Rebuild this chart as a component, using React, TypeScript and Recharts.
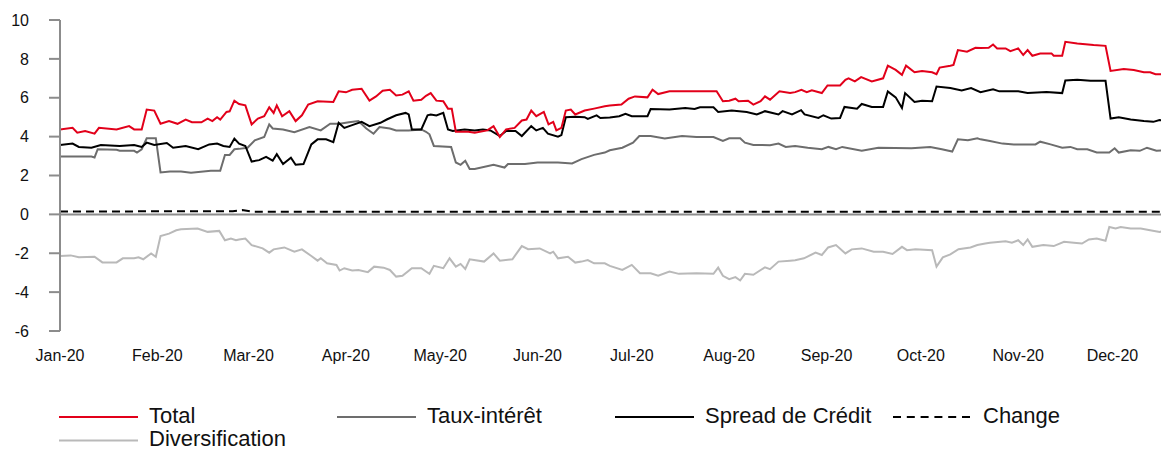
import { Line, LineChart, ReferenceLine, XAxis, YAxis } from "recharts"

type Pt = [number, number]

// day of year 2020 (0 = 1 Jan) -> value
const monthDays = [0, 31, 60, 91, 121, 152, 182, 213, 244, 274, 305, 335]
const monthLabels = [
  "Jan-20", "Feb-20", "Mar-20", "Apr-20", "May-20", "Jun-20",
  "Jul-20", "Aug-20", "Sep-20", "Oct-20", "Nov-20", "Dec-20",
]
const yTicks = [-6, -4, -2, 0, 2, 4, 6, 8, 10]

const totalPts: Pt[] = [
  [0, 4.37], [4, 4.45], [5.5, 4.2], [8, 4.29], [11, 4.15], [12.4, 4.45], [18, 4.37], [22, 4.54],
  [23.6, 4.37], [26, 4.37], [27.6, 5.39], [30, 5.34], [32, 4.66], [34.7, 4.8], [37.4, 4.66], [40, 4.88],
  [42, 4.74], [45, 4.74], [47, 4.93], [48.5, 4.8], [50, 5.0], [51, 4.88], [53, 5.27], [54, 5.3],
  [55.5, 5.85], [57, 5.68], [59, 5.61], [61, 4.63], [63, 4.93], [65, 5.05], [66.6, 5.51], [68, 5.22],
  [69, 5.61], [70.7, 5.05], [73, 5.31], [75, 4.8], [77, 5.1], [79, 5.65], [82, 5.82], [87, 5.78],
  [88.7, 6.33], [91, 6.28], [93, 6.41], [96, 6.46], [98.5, 5.85], [100.6, 6.07], [102.7, 6.36], [105, 6.41],
  [107, 6.12], [109, 6.16], [111, 6.33], [112.5, 5.85], [115, 5.9], [116.5, 6.1], [118, 6.24], [119.8, 5.85],
  [122, 5.82], [123.5, 5.44], [124.7, 5.44], [126, 4.25], [130, 4.25], [132, 4.2], [136, 4.32], [138, 4.54],
  [140, 3.98], [142, 4.37], [144.7, 4.45], [147, 4.83], [148.5, 4.88], [150, 5.34], [151.6, 5.05], [154, 5.27],
  [155.5, 4.63], [157, 4.76], [158, 4.32], [159.6, 4.45], [161, 5.34], [162.6, 5.39], [164, 5.14], [167, 5.34],
  [170, 5.44], [173.4, 5.56], [175, 5.6], [178.7, 5.65], [181, 5.95], [183, 6.07], [187, 6.02], [188.6, 6.41],
  [190.4, 6.19], [194, 6.33], [200.5, 6.33], [209, 6.33], [211, 5.82], [213, 5.85], [215, 5.95], [216, 5.82],
  [219, 5.85], [220.7, 5.65], [223, 5.82], [224.4, 6.07], [226, 5.9], [229, 6.33], [232.4, 6.24], [234, 6.29],
  [236, 6.41], [237.7, 6.29], [239.3, 6.38], [242.5, 6.24], [244.3, 6.63], [248.3, 6.63], [250, 6.92], [251, 7.0],
  [253, 6.84], [255, 7.06], [258.4, 6.84], [262, 7.0], [263.5, 7.65], [266, 7.43], [268, 7.18], [269.3, 7.65],
  [272, 7.31], [274.4, 7.38], [277.6, 7.31], [279, 7.21], [280, 7.55], [283.4, 7.65], [284.4, 7.69], [285.8, 8.45],
  [288.7, 8.37], [291.4, 8.57], [293, 8.56], [295.6, 8.57], [297, 8.74], [298.3, 8.54], [301, 8.54], [302.5, 8.4],
  [305, 8.54], [306.6, 8.2], [308, 8.45], [309.5, 8.16], [312, 8.28], [315.6, 8.28], [316.3, 8.16], [319, 8.16],
  [320, 8.88], [323.8, 8.79], [329, 8.71], [332.8, 8.67], [334.4, 7.38], [338.6, 7.48], [341.8, 7.43], [345, 7.31],
  [347, 7.31], [348.7, 7.21], [353, 7.21],
]

const tauxPts: Pt[] = [
  [0, 2.98], [10, 2.98], [11, 2.93], [12, 3.35], [18, 3.32], [19, 3.27], [23.6, 3.27], [24.5, 3.18],
  [26, 3.35], [27.6, 3.91], [30.5, 3.91], [32, 2.16], [35, 2.21], [38.5, 2.21], [41.7, 2.14], [48, 2.24],
  [51, 2.24], [52.5, 3.06], [54, 3.06], [55.5, 3.35], [57, 3.37], [59.7, 3.43], [62, 3.81], [65, 3.98],
  [66.6, 4.63], [67.7, 4.42], [71, 4.37], [74.6, 4.23], [79.4, 4.49], [83, 4.32], [86, 4.66], [89, 4.66],
  [92, 4.74], [95, 4.8], [97.5, 4.42], [99.8, 4.15], [101.7, 4.49], [105, 4.42], [107, 4.32], [111, 4.32],
  [115, 4.37], [116.5, 4.25], [117.6, 4.12], [119, 3.52], [124.5, 3.47], [126, 2.67], [127.5, 2.55], [129, 2.76],
  [130.4, 2.33], [132, 2.33], [138, 2.55], [141.5, 2.41], [142.6, 2.59], [148, 2.59], [152, 2.67], [158.5, 2.67],
  [163, 2.62], [166, 2.84], [170, 3.06], [173.4, 3.18], [175, 3.3], [179, 3.43], [182.4, 3.69], [184.4, 4.03],
  [188, 4.03], [192.5, 3.91], [198, 4.03], [202.6, 3.98], [208, 3.98], [211, 3.78], [213, 3.91], [216.5, 3.91],
  [218, 3.69], [220.7, 3.57], [226, 3.56], [228.7, 3.64], [231, 3.47], [234, 3.52], [238, 3.43], [242.5, 3.35],
  [244.6, 3.47], [247, 3.35], [249, 3.47], [255.2, 3.27], [260.5, 3.43], [271, 3.4], [277, 3.47], [280.7, 3.35],
  [284, 3.23], [285.8, 3.86], [289, 3.81], [292, 3.91], [293, 3.86], [296, 3.78], [300, 3.64], [303.6, 3.6],
  [310.5, 3.6], [312, 3.74], [315.3, 3.6], [319, 3.43], [321.6, 3.47], [323.8, 3.35], [327, 3.35], [330, 3.18],
  [334, 3.18], [335.7, 3.4], [337, 3.18], [340.8, 3.3], [343.7, 3.27], [346, 3.43], [349, 3.27], [353, 3.3],
]

const spreadPts: Pt[] = [
  [0, 3.57], [4, 3.64], [6, 3.47], [10, 3.43], [13, 3.57], [19, 3.52], [23.6, 3.57], [26, 3.47],
  [27.6, 3.69], [30, 3.57], [34, 3.67], [36, 3.43], [40, 3.52], [44, 3.35], [47.5, 3.6], [50, 3.64],
  [52, 3.52], [54, 3.47], [55.5, 3.9], [57, 3.64], [59, 3.52], [61, 2.72], [63.4, 2.79], [65.6, 2.96],
  [67.7, 2.76], [69, 3.1], [71, 2.59], [73.5, 2.92], [75, 2.55], [77.5, 2.59], [80, 3.6], [82, 3.86],
  [84.7, 3.86], [87, 3.72], [88.7, 4.71], [90.5, 4.45], [93, 4.59], [96, 4.76], [98.5, 4.54], [102, 4.71],
  [104, 4.88], [107, 5.1], [110, 5.22], [111, 5.14], [112, 4.37], [115, 4.37], [117, 5.1], [118, 5.14],
  [119.8, 5.09], [122, 5.22], [123.5, 4.37], [125, 4.29], [128.8, 4.37], [132, 4.32], [134.6, 4.37], [137, 4.32],
  [140, 4.03], [142, 4.29], [145, 4.29], [147, 4.03], [150, 4.54], [151.6, 4.32], [153.7, 4.45], [155.3, 4.15],
  [158.5, 4.0], [159.6, 4.08], [161, 5.0], [164, 5.02], [167, 5.0], [168, 4.91], [170.8, 5.09], [172, 4.96],
  [175, 4.98], [178, 5.05], [180, 5.17], [182, 5.05], [187, 5.05], [188, 5.42], [194, 5.39], [199, 5.47],
  [202, 5.42], [203.7, 5.51], [208, 5.51], [209.5, 5.27], [213.8, 5.34], [218.6, 5.27], [221.8, 5.14], [224.4, 5.31],
  [228.7, 5.14], [230, 5.31], [233, 5.14], [235.9, 5.36], [237, 5.14], [241.4, 4.96], [243, 5.1], [245.5, 4.93],
  [248.3, 4.96], [249.7, 5.53], [253.7, 5.44], [255.2, 5.68], [258.4, 5.53], [262, 5.53], [263.5, 6.33], [266, 6.02],
  [268, 5.47], [269, 6.24], [272, 5.78], [274.4, 5.85], [277.6, 5.82], [279, 6.58], [283.4, 6.5], [287, 6.38],
  [290, 6.5], [293, 6.29], [297, 6.44], [299, 6.33], [305, 6.33], [308, 6.24], [314, 6.29], [319, 6.24],
  [320, 6.89], [323.8, 6.92], [328, 6.87], [332.8, 6.87], [334.4, 4.93], [337, 5.0], [340.8, 4.88], [345, 4.8],
  [348, 4.76], [350, 4.85], [353, 4.83],
]

const changePts: Pt[] = [
  [0, 0.15], [55, 0.16], [58, 0.22], [61, 0.14], [353, 0.14],
]

const diversificationPts: Pt[] = [
  [0, -2.14], [3.4, -2.11], [6, -2.21], [11, -2.18], [13.5, -2.47], [18, -2.47], [20, -2.26], [23.6, -2.26],
  [25, -2.21], [26.5, -2.31], [29, -2.01], [30.5, -2.18], [32, -1.12], [34.7, -0.99], [37, -0.82], [38.5, -0.77],
  [43.8, -0.73], [47, -0.9], [50.7, -0.85], [52.5, -1.33], [54.4, -1.24], [56, -1.33], [57, -1.29], [59, -1.24],
  [61, -1.58], [64.5, -1.75], [66.6, -1.97], [68, -1.8], [71.4, -1.7], [74.6, -1.92], [77, -1.8], [80, -2.14],
  [82, -2.38], [83, -2.26], [85, -2.52], [88, -2.6], [89, -2.89], [90.5, -2.77], [93, -2.89], [95, -2.86],
  [98, -2.97], [100, -2.69], [103, -2.74], [105, -2.86], [107, -3.2], [109, -3.16], [112, -2.77], [115, -2.77],
  [116.5, -2.94], [117.6, -3.06], [119, -2.65], [122, -2.77], [124, -2.26], [126, -2.69], [127.5, -2.55], [129, -2.81],
  [130.4, -2.31], [135, -2.43], [138, -2.01], [140, -2.38], [144, -2.31], [147, -1.63], [149, -1.79], [152.7, -1.75],
  [156, -2.01], [157, -1.92], [158.5, -2.26], [161.7, -2.18], [164, -2.48], [166, -2.43], [168, -2.35], [170, -2.52],
  [173.4, -2.52], [175, -2.65], [179, -2.86], [182, -2.6], [184.6, -3.03], [188, -3.03], [190.4, -3.15], [194, -2.94],
  [197, -3.06], [202.6, -3.03], [208, -3.06], [209.5, -2.74], [211, -3.16], [213, -3.33], [215, -3.23], [216.5, -3.4],
  [218, -3.06], [220.7, -3.11], [224.4, -2.72], [226, -2.82], [228.7, -2.43], [232.4, -2.38], [234, -2.36], [236.8, -2.26],
  [240.5, -1.97], [242.5, -2.09], [244.5, -1.7], [247, -1.58], [250, -2.01], [252, -1.8], [255.2, -1.75], [259, -1.92],
  [262, -1.92], [265, -2.04], [268, -1.67], [269.6, -1.84], [272.3, -1.79], [277.6, -1.84], [279, -2.69], [281, -2.21],
  [283.4, -2.06], [286, -1.79], [289.8, -1.7], [292, -1.58], [294.5, -1.5], [296, -1.46], [301, -1.38], [303, -1.46],
  [305, -1.33], [306.6, -1.58], [308, -1.29], [309.5, -1.67], [313, -1.58], [316.3, -1.63], [319.6, -1.41], [322.7, -1.46],
  [325.3, -1.5], [327.5, -1.29], [330, -1.24], [332.8, -1.36], [334, -0.65], [336, -0.73], [337.6, -0.65], [340.8, -0.73],
  [344, -0.73], [347, -0.82], [350, -0.9], [353, -0.82],
]

const series = [
  { key: "div", name: "Diversification", pts: diversificationPts, color: "#b9b9b9", dash: undefined },
  { key: "taux", name: "Taux-intérêt", pts: tauxPts, color: "#6d6d6d", dash: undefined },
  { key: "change", name: "Change", pts: changePts, color: "#000000", dash: "8 5" },
  { key: "spread", name: "Spread de Crédit", pts: spreadPts, color: "#000000", dash: undefined },
  { key: "total", name: "Total", pts: totalPts, color: "#e2001a", dash: undefined },
]

// one table keyed by day, series fill their own columns
const rows = (() => {
  const byDay = new Map<number, Record<string, number>>()
  for (const s of series) {
    for (const [d, v] of s.pts) {
      const r = byDay.get(d) ?? { day: d }
      r[s.key] = v
      byDay.set(d, r)
    }
  }
  return [...byDay.values()].sort((a, b) => a.day - b.day)
})()

const FONT = "'Liberation Sans', Arial, Helvetica, sans-serif"
const AXIS_GREY = "#8c8c8c"

// legend order as in the original (row by row)
const legendItems = [
  { key: "total", x: 51, row: 0 },
  { key: "taux", x: 329, row: 0 },
  { key: "spread", x: 607, row: 0 },
  { key: "change", x: 885, row: 0 },
  { key: "div", x: 51, row: 1 },
]

const ChartLegend = () => (
  <svg width={1161} height={60} style={{ position: "absolute", left: 0, top: 385 }}>
    {legendItems.map((it) => {
      const s = series.find((x) => x.key === it.key)!
      const ly = 24 + it.row * 23.5
      return (
        <g key={it.key}>
          <line
            x1={it.x}
            x2={it.x + 79}
            y1={ly}
            y2={ly}
            stroke={s.color}
            strokeWidth={2}
            strokeDasharray={s.dash ? "8 5.8" : undefined}
          />
          <text x={it.x + 90} y={ly + 5.5} fontSize={22} fontFamily={FONT} fill="#111">
            {s.name}
          </text>
        </g>
      )
    })}
  </svg>
)

export default function App() {
  return (
    <div style={{ position: "relative", width: 1161, height: 441 }}>
      <LineChart width={1161} height={370} data={rows} margin={{ top: 12, right: 0, left: 0, bottom: 7 }}>
        <XAxis
          type="number"
          dataKey="day"
          domain={[0, 353]}
          ticks={monthDays}
          interval={0}
          tickFormatter={(d: number) => monthLabels[monthDays.indexOf(d)]}
          axisLine={false}
          tickLine={false}
          tickSize={0}
          tickMargin={19}
          height={40}
          tick={{ fontSize: 16, fontFamily: FONT, fill: "#111" }}
          allowDataOverflow
        />
        <YAxis
          domain={[-6, 10]}
          ticks={yTicks}
          interval={0}
          width={52}
          tickSize={11}
          tickMargin={20}
          axisLine={{ stroke: AXIS_GREY, strokeWidth: 2 }}
          tickLine={{ stroke: AXIS_GREY, strokeWidth: 2 }}
          tick={{ fontSize: 16, fontFamily: FONT, fill: "#111" }}
          allowDataOverflow
        />
        <ReferenceLine y={0} stroke={AXIS_GREY} strokeWidth={2} />
        {series.map((s) => (
          <Line
            key={s.key}
            dataKey={s.key}
            name={s.name}
            type="linear"
            stroke={s.color}
            strokeWidth={2}
            strokeDasharray={s.dash}
            dot={false}
            activeDot={false}
            connectNulls
            isAnimationActive={false}
          />
        ))}
      </LineChart>
      <ChartLegend />
    </div>
  )
}
